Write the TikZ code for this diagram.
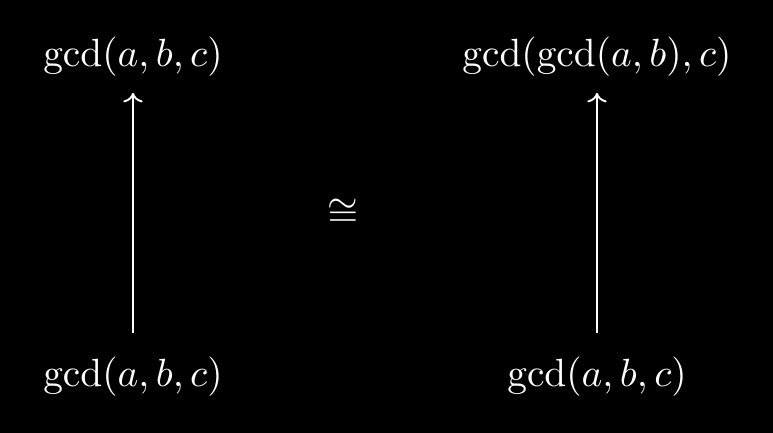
\documentclass[tikz,border=0pt]{standalone}
\usepackage{graphicx}
\usetikzlibrary{arrows.meta}
\newcommand{\sbx}[1]{\scalebox{1.025}{#1}}
\begin{document}
\begin{tikzpicture}[x=0.2604pt,y=-0.2604pt,
  lbl/.style={text=white,inner sep=3pt},
  arr/.style={draw=white,line width=0.5pt,-{To[length=2.5pt,width=5pt]}}]
\fill[black] (0,0) rectangle (773,433);
\useasboundingbox (0,0) rectangle (773,433);
\node[lbl] (tl) at (133,57) {\sbx{$\gcd(a,b,c)$}};
\node[lbl] (bl) at (133,377) {\sbx{$\gcd(a,b,c)$}};
\node[lbl] (tr) at (597,57) {\sbx{$\gcd(\gcd(a,b),c)$}};
\node[lbl] (br) at (597,377) {\sbx{$\gcd(a,b,c)$}};
\node[lbl] (iso) at (343,213) {\sbx{$\cong$}};
\draw[arr,shorten <=3pt,shorten >=1pt] (bl) -- (tl);
\draw[arr,shorten <=3pt,shorten >=1pt] (br) -- (tr);
\end{tikzpicture}
\end{document}
